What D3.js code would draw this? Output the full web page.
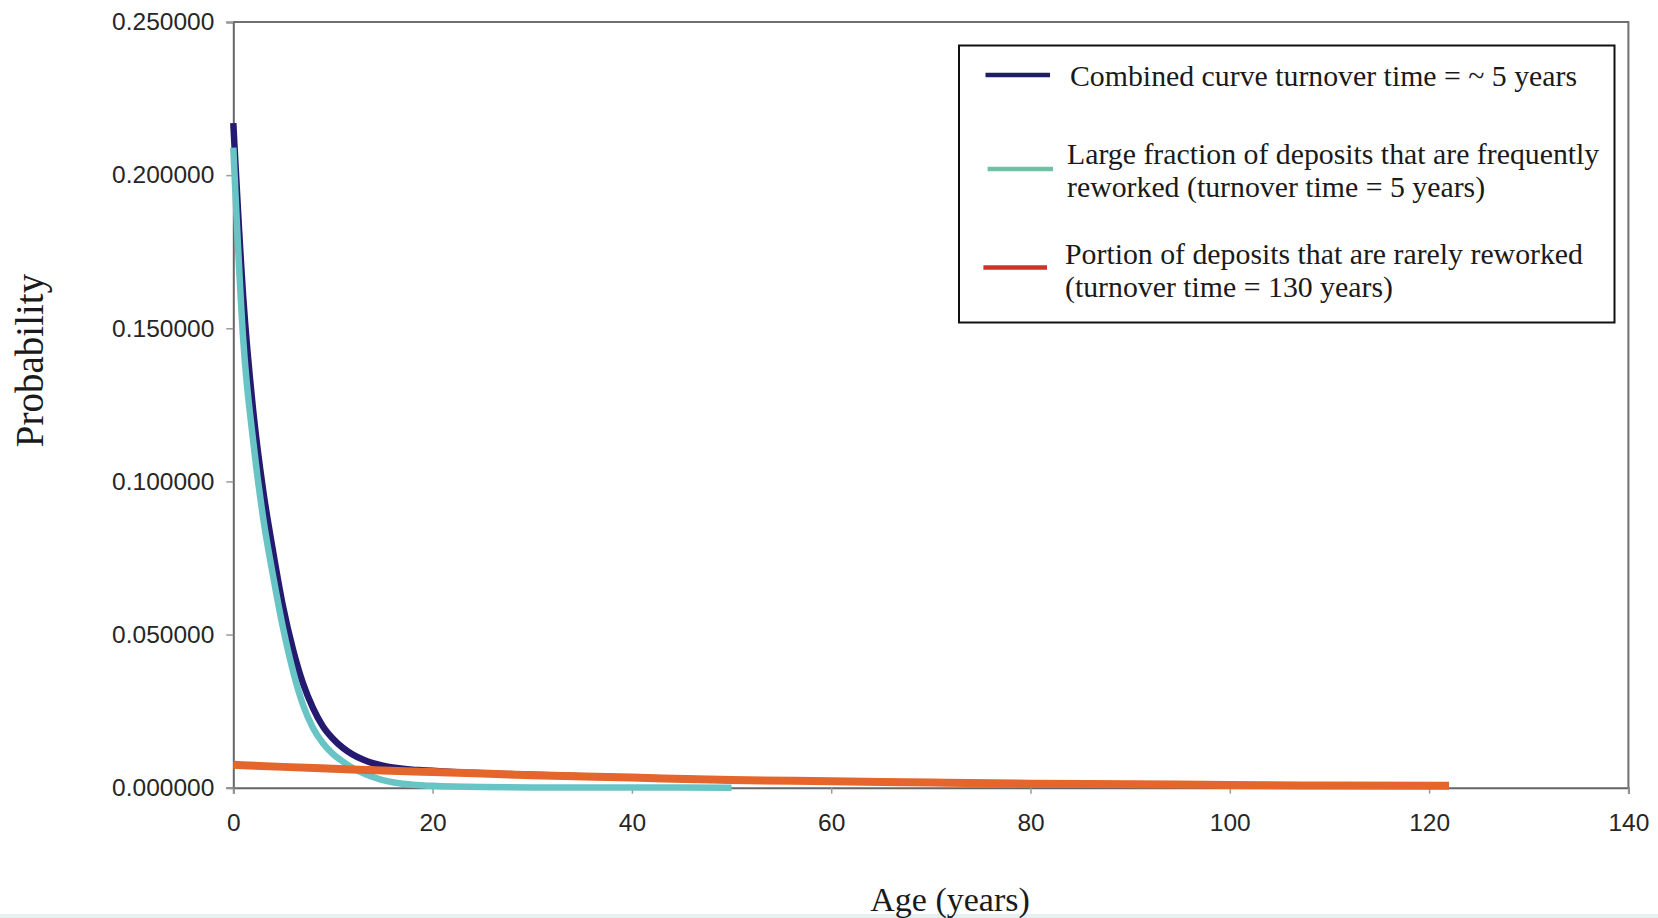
<!DOCTYPE html>
<html>
<head>
<meta charset="utf-8">
<script src="https://cdn.jsdelivr.net/npm/d3@7"></script>
<style>
  html, body { margin: 0; padding: 0; background: #fff; }
  svg { display: block; }
  .tick text { font-family: "Liberation Sans", Arial, sans-serif; font-size: 24.5px; fill: #262626; }
  .serif { font-family: "Liberation Serif", "Times New Roman", serif; fill: #1a1a1a; }
</style>
</head>
<body>
<svg id="chart" width="1658" height="918"></svg>
<script>
// Age axis (years) and probability values for each curve
const ageCombined = [0, 1, 2, 3, 4, 5, 6, 7, 8, 9, 10, 11, 12, 13, 14, 15, 16, 17, 18, 19, 20, 22, 25, 30, 40, 50];
const probCombined = [0.217, 0.160, 0.123, 0.097, 0.077, 0.059, 0.045, 0.034, 0.026, 0.020, 0.0160, 0.0130, 0.0108, 0.0092, 0.0080, 0.0072, 0.0066, 0.0062, 0.0059, 0.0057, 0.0055, 0.0051, 0.0047, 0.0042, 0.0033, 0.0025];

const ageFrequent = [0, 1, 2, 3, 4, 5, 6, 7, 8, 9, 10, 11, 12, 13, 14, 15, 16, 17, 18, 20, 25, 30, 40, 50];
const probFrequent = [0.209, 0.146, 0.113, 0.088, 0.069, 0.052, 0.038, 0.027, 0.0195, 0.0145, 0.0110, 0.0085, 0.0064, 0.0048, 0.0035, 0.0025, 0.0018, 0.0013, 0.0010, 0.0006, 0.0002, 0.0001, 0.00005, 0.0];

const ageRare = [0, 5, 10, 15, 20, 25, 30, 40, 50, 60, 70, 80, 90, 100, 110, 122];
const probRare = [0.0075, 0.0068, 0.0062, 0.0056, 0.0051, 0.0046, 0.0041, 0.0033, 0.0025, 0.0021, 0.0017, 0.0013, 0.0011, 0.0009, 0.0007, 0.0006];

const xTicks = [0, 20, 40, 60, 80, 100, 120, 140];
const yTicks = [0, 0.05, 0.10, 0.15, 0.20, 0.25];

const legendLabels = [
  ["Combined curve turnover time = ~ 5 years"],
  ["Large fraction of deposits that are frequently", "reworked (turnover time = 5 years)"],
  ["Portion of deposits that are rarely reworked", "(turnover time = 130 years)"]
];

const svg = d3.select("#chart");

const x = d3.scaleLinear().domain([0, 140]).range([233.3, 1628.4]);
const y = d3.scaleLinear().domain([0, 0.25]).range([787.7, 22]);

// faint strip along the bottom edge
svg.append("rect").attr("x", 0).attr("y", 914).attr("width", 1658).attr("height", 4).attr("fill", "#e4f2f2");

// plot frame (top and right edges)
svg.append("path")
  .attr("d", `M${x(0)},${y(0.25)}H${x(140)}V${y(0)}`)
  .attr("fill", "none").attr("stroke", "#707070").attr("stroke-width", 2);

// axes
const yAxis = svg.append("g")
  .attr("transform", `translate(${x(0)},0)`)
  .call(d3.axisLeft(y).tickValues(yTicks).tickFormat(d3.format(".6f")).tickSize(7).tickPadding(12));
const xAxis = svg.append("g")
  .attr("transform", `translate(0,${y(0)})`)
  .call(d3.axisBottom(x).tickValues(xTicks).tickFormat(d3.format("d")).tickSize(6).tickPadding(20));

[yAxis, xAxis].forEach(g => {
  g.select(".domain").attr("stroke", "#666").attr("stroke-width", 2);
  g.selectAll(".tick line").attr("stroke", "#9a9a9a").attr("stroke-width", 1.5);
});

// curves
const line = d3.line().x(d => x(d[0])).y(d => y(d[1])).curve(d3.curveMonotoneX);

const series = [
  { ages: ageCombined, probs: probCombined, color: "#241b70", width: 6.5 },
  { ages: ageFrequent, probs: probFrequent, color: "#69c4c6", width: 6.5 },
  { ages: ageRare, probs: probRare, color: "#e4662c", width: 8 }
];

series.forEach(s => {
  svg.append("path")
    .datum(d3.zip(s.ages, s.probs))
    .attr("d", line)
    .attr("fill", "none")
    .attr("stroke", s.color)
    .attr("stroke-width", s.width)
    .attr("stroke-linecap", "butt")
    .attr("stroke-linejoin", "round");
});

// legend
const legend = svg.append("g");
legend.append("rect")
  .attr("x", 959).attr("y", 45.5).attr("width", 655.5).attr("height", 277)
  .attr("fill", "#fff").attr("stroke", "#111").attr("stroke-width", 2);

const legendItems = [
  { swatch: "#1f1d6a", x1: 985.5, x2: 1050, ly: 75, tx: 1070, rows: [75] },
  { swatch: "#6cc3a3", x1: 987.6, x2: 1053, ly: 169, tx: 1067, rows: [153.3, 186] },
  { swatch: "#d42f2a", x1: 983.4, x2: 1047, ly: 267.5, tx: 1065, rows: [253.8, 286.5] }
];

legendItems.forEach((it, i) => {
  legend.append("line")
    .attr("x1", it.x1).attr("x2", it.x2).attr("y1", it.ly).attr("y2", it.ly)
    .attr("stroke", it.swatch).attr("stroke-width", 4.5);
  legendLabels[i].forEach((txt, j) => {
    legend.append("text")
      .attr("class", "serif")
      .attr("x", it.tx).attr("y", it.rows[j])
      .attr("dominant-baseline", "central")
      .attr("font-size", 29.8)
      .text(txt);
  });
});

// axis titles
svg.append("text")
  .attr("class", "serif")
  .attr("transform", "translate(43,360.5) rotate(-90)")
  .attr("text-anchor", "middle")
  .attr("font-size", 39)
  .text("Probability");

svg.append("text")
  .attr("class", "serif")
  .attr("x", 950).attr("y", 911)
  .attr("text-anchor", "middle")
  .attr("font-size", 34)
  .text("Age (years)");
</script>
</body>
</html>
